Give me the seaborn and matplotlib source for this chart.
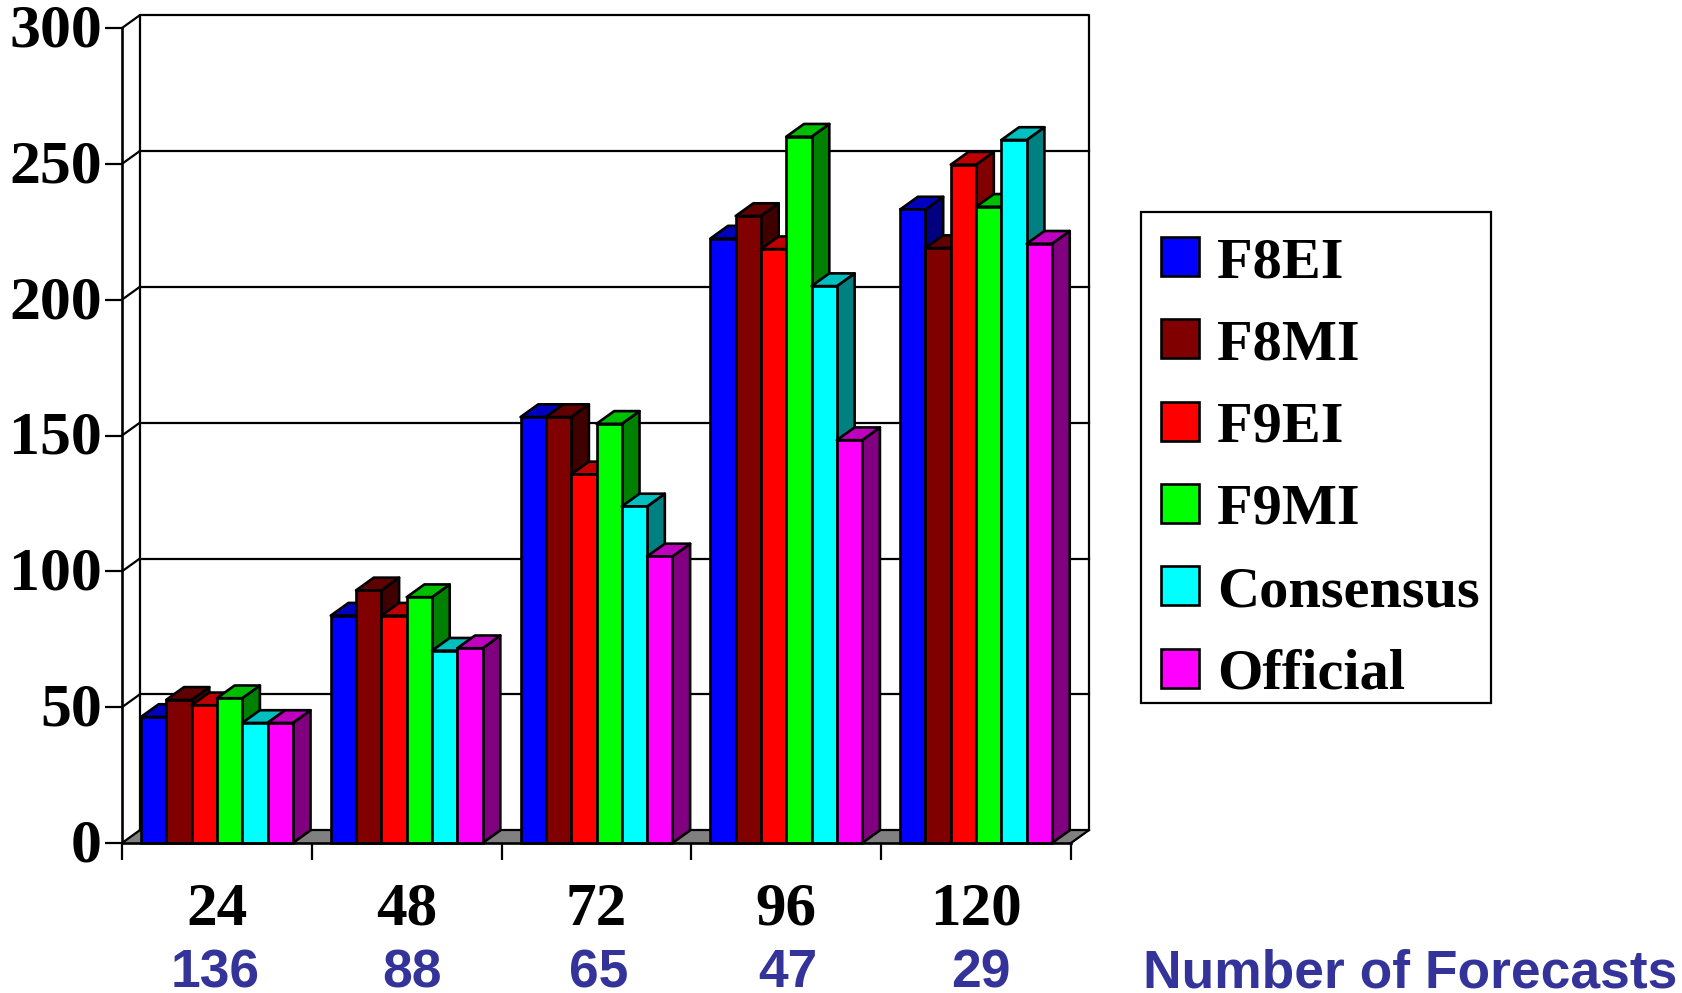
import matplotlib
matplotlib.use('Agg')
import matplotlib.pyplot as plt
import matplotlib.colors as mcolors
from matplotlib.patches import Rectangle
from matplotlib.transforms import ScaledTranslation
import pandas as pd
import seaborn as sns

# forecast hour and number of forecasts
hours = ['24', '48', '72', '96', '120']
counts = ['136', '88', '65', '47', '29']

# values per model
models = ['F8EI', 'F8MI', 'F9EI', 'F9MI', 'Consensus', 'Official']
colors = ['#0000ff', '#800000', '#ff0000', '#00ff00', '#00ffff', '#ff00ff']
f8ei = [46.4, 83.7, 156.8, 222.5, 233.2]
f8mi = [52.7, 93, 156.8, 230.8, 219]
f9ei = [50.7, 83.7, 135.7, 218.6, 249.7]
f9mi = [53.3, 90.5, 154.3, 260, 234.2]
consensus = [44.2, 70.8, 123.9, 205, 258.8]
official = [44.2, 71.7, 105.5, 148.3, 220.6]

W, H = 1683, 993
LEFT, RIGHT, BOTTOM, TOP = 122, 1071, 843, 28
LW = 1.9
LW_BACK = 1.6
# depth of the fake 3d box, in data units
DX = 17.7 / ((RIGHT - LEFT) / 5)
DY = 12.7 / ((BOTTOM - TOP) / 300)

df = pd.DataFrame({
    'hour': hours * 6,
    'model': [m for m in models for _ in hours],
    'value': f8ei + f8mi + f9ei + f9mi + consensus + official,
})

sns.set_theme(style='white')
plt.rcParams['font.family'] = ['Liberation Serif', 'DejaVu Serif']

fig = plt.figure(figsize=(W / 100, H / 100), dpi=100)
ax = fig.add_axes([LEFT / W, 1 - BOTTOM / H, (RIGHT - LEFT) / W, (BOTTOM - TOP) / H])
sns.barplot(data=df, x='hour', y='value', hue='model', palette=colors, hue_order=models,
            order=hours, width=0.8, gap=0, edgecolor='black', linewidth=LW, saturation=1,
            errorbar=None, ax=ax)

ax.set_xlim(-0.5, 4.5)
ax.set_ylim(0, 300)
ax.set_xlabel('')
ax.set_ylabel('')
ax.patch.set_alpha(0)

x0, x1 = -0.5, 4.5
line = dict(color='black', lw=LW_BACK, clip_on=False, zorder=1, solid_capstyle='projecting')

# bars, before anything else lands in ax.patches
bars = sorted([p for c in ax.containers for p in c], key=lambda p: p.get_x())

# back wall, floor and gridlines
ax.fill([x0, x1, x1 + DX, x0 + DX], [0, 0, DY, DY], color='#808080', clip_on=False, zorder=0.5)
ax.plot([x0 + DX, x0 + DX, x1 + DX, x1 + DX], [DY, 300 + DY, 300 + DY, DY], **line)
ax.plot([x1, x1 + DX], [0, DY], **line)
ax.plot([x0 + DX, x1 + DX], [DY, DY], **line)
for y in range(0, 301, 50):
    ax.plot([x0, x0 + DX], [y, y + DY], **line)
    if 0 < y < 300:
        ax.plot([x0 + DX, x1 + DX], [y + DY, y + DY], **line)

# sides and tops of the bars, left to right so each one covers the last
z = 3
for p in bars:
    l, w, h = p.get_x(), p.get_width(), p.get_height()
    r = l + w
    rgb = mcolors.to_rgb(p.get_facecolor())
    top_c = [c * 0.75 for c in rgb]
    side_c = [c * 0.5 for c in rgb]
    ax.fill([r, r + DX, r + DX, r], [0, DY, h + DY, h], facecolor=side_c, edgecolor='black',
            lw=LW, clip_on=False, zorder=z, joinstyle='round')
    ax.fill([l, l + DX, r + DX, r], [h, h + DY, h + DY, h], facecolor=top_c, edgecolor='black',
            lw=LW, clip_on=False, zorder=z, joinstyle='round')
    p.set_zorder(z + 0.5)
    p.set_clip_on(False)
    z += 1

sns.despine(ax=ax, top=True, right=True)
for s in ['left', 'bottom']:
    ax.spines[s].set_linewidth(LW)
    ax.spines[s].set_color('black')
    ax.spines[s].set_zorder(200)

# ticks
ax.set_yticks(range(0, 301, 50))
ax.tick_params(axis='y', left=True, length=12, width=LW_BACK, color='black', pad=2.5, labelsize=44.5)
ax.set_xticks(range(len(hours)), hours)
ax.set_xticks([i - 0.5 for i in range(len(hours) + 1)], minor=True)
ax.tick_params(axis='x', which='major', bottom=False, length=0, pad=28, labelsize=44)
ax.tick_params(axis='x', which='minor', bottom=True, length=12, width=LW_BACK, color='black')
for t in ax.get_xticklabels() + ax.get_yticklabels():
    t.set_fontweight('bold')
    t.set_color('black')
# y labels sit a little above their ticks
for t in ax.get_yticklabels():
    t.set_transform(t.get_transform() + ScaledTranslation(0, 3 / 100, fig.dpi_scale_trans))

# number of forecasts row
nudge = [-2, 5, 2, 2, 5]
for i, c in enumerate(counts):
    ax.annotate(c, xy=(i, 0), xycoords=('data', 'axes fraction'), xytext=(nudge[i] * 0.72, -130 * 0.72),
                textcoords='offset points', ha='center', va='center', fontsize=38.4, fontweight='bold',
                family='Liberation Sans', color='#333399')
fig.text(1143 / W, 1 - 973 / H, 'Number of Forecasts', ha='left', va='center', fontsize=38.4,
         fontweight='bold', family='Liberation Sans', color='#333399')

# legend box is drawn on its own, its padding is uneven in the original
fig.add_artist(Rectangle((1141 / W, 1 - 703 / H), 350 / W, 491 / H, transform=fig.transFigure,
                         facecolor='white', edgecolor='black', lw=LW_BACK, zorder=-1))
sns.move_legend(ax, 'upper left', bbox_to_anchor=(1161 / W, 1 - 237 / H), bbox_transform=fig.transFigure,
                title=None, frameon=False, fontsize=42, handlelength=0.65, handleheight=0.65,
                handletextpad=0.31, labelspacing=0.52, borderpad=0, borderaxespad=0)
leg = ax.get_legend()
leg.set_zorder(300)
for t in leg.get_texts():
    t.set_fontweight('bold')
    t.set_color('black')

fig.savefig('out.png', dpi=100)
